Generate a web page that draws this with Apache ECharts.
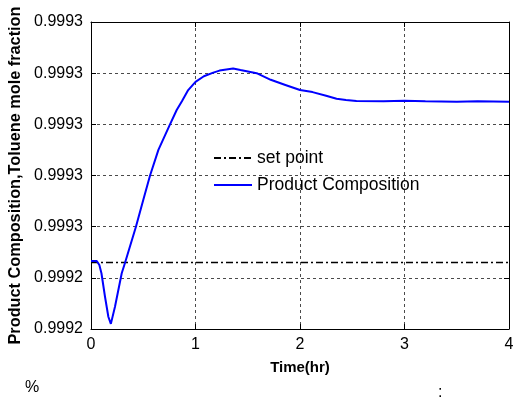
<!DOCTYPE html>
<html>
<head>
<meta charset="utf-8">
<script src="https://cdn.jsdelivr.net/npm/echarts@6/dist/echarts.min.js"></script>
<style>
  html, body { margin: 0; padding: 0; background: #fff; }
  #chart { width: 514px; height: 405px; }
</style>
</head>
<body>
<div id="chart"></div>
<script>
// Time axis (hours)
const timeHr = [0, 0.055, 0.08, 0.10, 0.134, 0.166, 0.19, 0.23, 0.294, 0.325, 0.43, 0.50,
  0.565, 0.645, 0.756, 0.82, 0.87, 0.93, 1.0, 1.08, 1.17, 1.23, 1.36, 1.43, 1.585, 1.72,
  1.86, 2.0, 2.12, 2.25, 2.35, 2.44, 2.54, 2.8, 3.0, 3.2, 3.5, 3.7, 4.0];

// Product composition (toluene mole fraction)
const composition = [0.9992366, 0.9992366, 0.999235, 0.9992318, 0.9992226, 0.9992148,
  0.999212, 0.9992188, 0.9992318, 0.9992358, 0.99925, 0.9992604, 0.99927, 0.99928,
  0.99929, 0.9992956, 0.999299, 0.9993034, 0.9993066, 0.9993088, 0.9993102, 0.999311,
  0.9993118, 0.9993112, 0.99931, 0.9993074, 0.9993054, 0.9993034, 0.9993026, 0.9993012,
  0.9993, 0.9992995, 0.9992991, 0.999299, 0.9992992, 0.999299, 0.9992988, 0.999299,
  0.9992988];

// Set point value
const setPointValue = 0.999236;
const setPointTime = [0, 4];

// Axis tick labels
const xTickLabels = ['0', '1', '2', '3', '4'];
const yTickLabels = ['0.9992', '0.9992', '0.9993', '0.9993', '0.9993', '0.9993', '0.9993'];

const yMin = 0.99921;
const yStep = 0.00002;
const yMax = yMin + yStep * (yTickLabels.length - 1);

const font = 'Arial, "Liberation Sans", sans-serif';

const chart = echarts.init(document.getElementById('chart'), null, { renderer: 'canvas' });

const gridDash = { color: '#4a4a4a', width: 1, type: [3, 3] };

chart.setOption({
  animation: false,
  backgroundColor: '#ffffff',
  grid: { left: 91, top: 22, right: 5, bottom: 76, containLabel: false, outerBoundsMode: 'none' },
  legend: {
    left: 208, top: 144, orient: 'vertical', itemGap: 9, itemWidth: 38, itemHeight: 12,
    textStyle: { fontFamily: font, fontSize: 17.5, lineHeight: 18, color: '#000' },
    itemStyle: { opacity: 0 },
    data: ['set point', 'Product Composition'],
    selectedMode: false
  },
  xAxis: [{
    type: 'value', min: 0, max: 4, interval: 1,
    name: 'Time(hr)', nameLocation: 'middle', nameGap: 31,
    nameTextStyle: { fontFamily: font, fontSize: 15, fontWeight: 'bold', color: '#000' },
    axisLine: { show: true, lineStyle: { color: '#000', width: 1 } },
    axisTick: { show: true, inside: true, length: 5, lineStyle: { color: '#000' } },
    axisLabel: { fontFamily: font, fontSize: 16, color: '#000', margin: 8,
      formatter: (v) => xTickLabels[Math.round(v)] },
    splitLine: { show: true, lineStyle: gridDash }
  }, {
    type: 'value', min: 0, max: 4, interval: 1, position: 'top',
    axisLine: { show: true, onZero: false, lineStyle: { color: '#000', width: 1 } },
    axisTick: { show: true, inside: true, length: 5, lineStyle: { color: '#000' } },
    axisLabel: { show: false }, splitLine: { show: false }
  }],
  yAxis: [{
    type: 'value', min: yMin, max: yMax, interval: yStep,
    name: 'Product Composition,Toluene mole fraction', nameLocation: 'middle', nameGap: 66,
    nameTextStyle: { fontFamily: font, fontSize: 16.3, fontWeight: 'bold', color: '#000' },
    axisLine: { show: true, lineStyle: { color: '#000', width: 1 } },
    axisTick: { show: true, inside: true, length: 5, lineStyle: { color: '#000' } },
    axisLabel: { fontFamily: font, fontSize: 16, color: '#000', margin: 8,
      formatter: (v) => yTickLabels[Math.round((v - yMin) / yStep)] },
    splitLine: { show: true, lineStyle: gridDash }
  }, {
    type: 'value', min: yMin, max: yMax, interval: yStep, position: 'right',
    axisLine: { show: true, onZero: false, lineStyle: { color: '#000', width: 1 } },
    axisTick: { show: true, inside: true, length: 5, lineStyle: { color: '#000' } },
    axisLabel: { show: false }, splitLine: { show: false }
  }],
  series: [{
    name: 'set point', type: 'line', symbol: 'none', silent: true,
    data: setPointTime.map((t) => [t, setPointValue]),
    lineStyle: { color: '#000', width: 1.5, type: [7, 3, 2, 3] },
    itemStyle: { color: '#000' }
  }, {
    name: 'Product Composition', type: 'line', symbol: 'none', silent: true,
    data: timeHr.map((t, i) => [t, composition[i]]),
    lineStyle: { color: '#0000ff', width: 2 },
    itemStyle: { color: '#0000ff' }
  }],
  graphic: [
    { type: 'text', left: 25, top: 380, style: { text: '%', fontFamily: font, fontSize: 16, fill: '#000' } },
    { type: 'text', left: 438, top: 385, style: { text: ':', fontFamily: font, fontSize: 16, fill: '#000' } }
  ]
});
</script>
</body>
</html>
